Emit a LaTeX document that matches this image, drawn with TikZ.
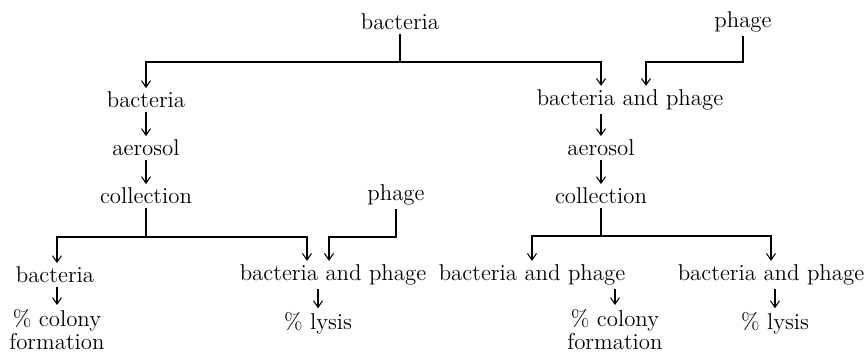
\documentclass[tikz,border=0pt]{standalone}
\usetikzlibrary{arrows.meta, calc}
\tikzstyle{lbl} = [inner sep=2pt, align=center, font=\fontsize{13}{13.6}\selectfont]
\tikzstyle{arrow} = [line width=0.6pt, -{Straight Barb[length=1.3mm, width=1.8mm]}]

\begin{document}
\begin{tikzpicture}[x=0.02cm, y=-0.02cm]
  \useasboundingbox (0,0) rectangle (867,354);

  % Top sources
  \node[lbl] (bac0) at (400,22) {bacteria};
  \node[lbl] (phg0) at (743,22) {phage};
  \coordinate (j1) at (0,62);

  % Left branch
  \node[lbl] (bac1) at (146,100) {bacteria};
  \node[lbl] (aer1) at (146,148) {aerosol};
  \node[lbl] (col1) at (146,196) {collection};
  \node[lbl] (phg1) at (396,195) {phage};
  \coordinate (j2) at (0,237);
  \node[lbl] (bac3) at (55,275) {bacteria};
  \node[lbl, anchor=south] (colf1) at (57,354) {\% colony\\formation};
  \node[lbl] (bp3) at (333,275) {bacteria and phage};
  \node[lbl] (lys1) at (318,323) {\% lysis};

  % Right branch
  \node[lbl] (bp1) at (630,100) {bacteria and phage};
  \node[lbl] (aer2) at (601,148) {aerosol};
  \node[lbl] (col2) at (601,196) {collection};
  \coordinate (j3) at (0,236);
  \node[lbl] (bp4) at (532,275) {bacteria and phage};
  \node[lbl, anchor=south] (colf2) at (615,354) {\% colony\\formation};
  \node[lbl] (bp5) at (771,275) {bacteria and phage};
  \node[lbl] (lys2) at (775,323) {\% lysis};

  % Split of the sources
  \draw[arrow] (bac0.south) -- (bac0.south |- j1) -| (bac1.north);
  \draw[arrow] (bac0.south |- j1) -| ($(bp1.north)+(-29,0)$);
  \draw[arrow] (phg0.south) -- (phg0.south |- j1) -| ($(bp1.north)+(16,0)$);

  % Left chain
  \draw[arrow] (bac1) -- (aer1);
  \draw[arrow] (aer1) -- (col1);
  \draw[arrow] (col1.south) -- (col1.south |- j2) -| (bac3.north -| colf1.north);
  \draw[arrow] (col1.south |- j2) -| ($(bp3.north)+(-26,0)$);
  \draw[arrow] (phg1.south) -- (phg1.south |- j2) -| ($(bp3.north)+(-4,0)$);
  \draw[arrow] (bac3.south -| colf1.north) -- (colf1.north);
  \draw[arrow] (bp3.south -| lys1.north) -- (lys1.north);

  % Right chain
  \draw[arrow] (bp1.south -| aer2.north) -- (aer2.north);
  \draw[arrow] (aer2) -- (col2);
  \draw[arrow] (col2.south) -- (col2.south |- j3) -| (bp4.north);
  \draw[arrow] (col2.south |- j3) -| (bp5.north);
  \draw[arrow] (bp4.south -| colf2.north) -- (colf2.north);
  \draw[arrow] (bp5.south -| lys2.north) -- (lys2.north);
\end{tikzpicture}
\end{document}
